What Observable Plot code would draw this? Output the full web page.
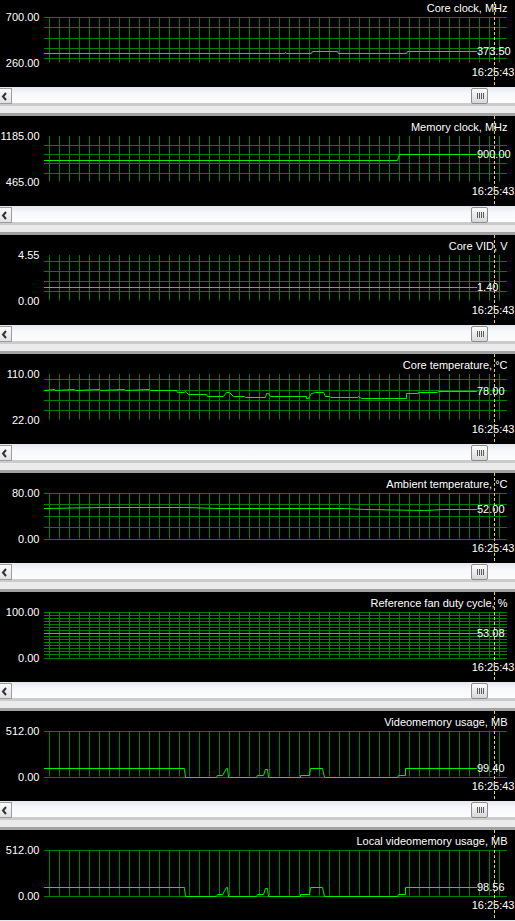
<!DOCTYPE html>
<html>
<head>
<meta charset="utf-8">
<script src="https://cdn.jsdelivr.net/npm/d3@7"></script>
<script src="https://cdn.jsdelivr.net/npm/@observablehq/plot@0.6"></script>
<style>
  html, body { margin: 0; padding: 0; background: #000; width: 515px; height: 921px; overflow: hidden; }
  #wrap { margin-top: -3px; }
  .panel svg { display: block; }
  .sb { position: relative; height: 16px; background: linear-gradient(#e4e7ee, #f7f8fb 40%, #fdfdfd); }
  .sb .btn { position: absolute; left: 0; top: 1px; width: 11px; height: 14px; border: 1px solid #9c9c9c; border-left: none; background: linear-gradient(#fbfbfb, #e2e2e6); }
  .sb .thumb { position: absolute; left: 471px; top: 1px; width: 15px; height: 14px; border: 1px solid #8c8c8c; border-radius: 2px; background: linear-gradient(#fdfdfd, #d8d8dc); box-sizing: content-box; }
  .sb .grip { position: absolute; left: 5px; top: 4px; width: 7px; height: 6px; background: repeating-linear-gradient(90deg, #5a5a5a 0 1px, transparent 1px 2px); }
  .sep1 { height: 3px; background: #cbcbcb; }
  .sep2 { height: 7px; background: #ebebeb; }
  .sep3 { height: 3px; background: #a2a2a2; }
</style>
</head>
<body>
<div id="wrap"></div>
<script>
// ---------- data ----------
const titles = ["Core clock, MHz", "Memory clock, MHz", "Core VID, V", "Core temperature, °C",
  "Ambient temperature, °C", "Reference fan duty cycle, %", "Videomemory usage, MB", "Local videomemory usage, MB"];
const yMins = [260, 465, 0, 22, 0, 0, 0, 0];
const yMaxs = [700, 1185, 4.55, 110, 80, 100, 512, 512];
const gridTicks = [
  [300, 400, 500, 600, 700],
  [600, 750, 900, 1050],
  [1, 2, 3, 4],
  [40, 60, 80, 100],
  [0, 20, 40, 60, 80],
  [0, 6.67, 13.33, 20, 26.67, 33.33, 40, 46.67, 53.33, 60, 66.67, 73.33, 80, 86.67, 93.33, 100],
  [0, 512],
  [0, 512]
];
const timeLabel = "16:25:43";
const timeTicks = [5,15,25,35,45,55,65,75,85,95,105,115,125,135,145,155,165,175,185,195,205,215,225,235,245,255,265,275,285,295,305,315,325,335,345,355,365,375,385,395,405,415,425,435,445,455];
const xDomain = [0, 463];
const cursorTime = [450];

const coreClock = [[0,350],[240,350],[241,362],[242,350],[267,350],[267.5,373.5],[293,373.5],[293.5,350],[362,350],[362.5,373.5],[432.4,373.5]];
const memClock = [[0,800],[353,800],[354,850],[355,900],[432.4,900]];
const coreVid = [[0,1.40],[432.4,1.40]];
const coreTemp = [[0,80],[10,81],[11,80],[30,81],[31,80],[55,81],[56,80],[80,81],[81,80],[105,81],[106,80],[132,80],
  [132.5,75.3],[133.5,74.6],[140,75.3],[141,77],[142,75],[144,71.5],[162,71.5],[162.5,68.2],[179,68.2],[181.7,75],[184.7,75],
  [189,68],[200,68],[200.7,65.7],[221,65.7],[222.4,73.4],[223.7,73],[225.7,68.2],[262,68.2],[262.4,64.4],[263.7,64.4],
  [266.7,73.4],[270.7,75],[279,75],[280.7,68],[285,68],[285.7,65.4],[313,65.4],[313.7,68],[316.7,64],[362,64],[362.4,73.4],
  [373.5,73.4],[374,75],[393.5,75],[394,77.9],[432.4,78]];
const ambientTemp = [[0,54],[60,55],[110,56],[140,55.5],[176,54],[230,53],[300,53],[320,51.5],[380,50],[400,51],[432.4,52]];
const fanDuty = [[0,53.08],[432.4,53.08]];
const vidMem = [[0,99.4],[139.5,99.4],[140,85],[140.7,0],[172,0],[172.5,22],[178.5,22],[182,99],[183,99],[184,0],
  [212,0],[212.5,15],[218.5,15],[221,87],[223,87],[224,0],[255.5,0],[256,15],[265,15],[265.7,95],[278.4,95],[279.7,0],
  [353,0],[353.5,15],[361,15],[361.4,99.4],[432.4,99.4]];
const localVidMem = [[0,98.56],[139.5,98.56],[140,85],[140.7,0],[172,0],[172.5,22],[178.5,22],[182,99],[183,99],[184,0],
  [212,0],[212.5,15],[218.5,15],[221,87],[223,87],[224,0],[255.5,0],[256,15],[265,15],[265.7,95],[278.4,95],[279.7,0],
  [353,0],[353.5,15],[361,15],[361.4,98.56],[432.4,98.56]];
const series = [coreClock, memClock, coreVid, coreTemp, ambientTemp, fanDuty, vidMem, localVidMem];

// ---------- style ----------
const gridColor = "#008000";
const lineColor = "#00f000";
const cursorColor = "#e8d840";
const font = "'Liberation Sans', Arial, sans-serif";

const wrap = document.getElementById("wrap");

titles.forEach((title, i) => {
  const data = series[i].map(([t, v]) => ({t, v}));
  const last = data[data.length - 1];
  const panel = document.createElement("div");
  panel.className = "panel";
  wrap.appendChild(panel);

  const svg = Plot.plot({
    width: 515, height: 90,
    marginLeft: 44, marginRight: 8, marginTop: 20, marginBottom: 24.5,
    style: {background: "black", color: "white", fontFamily: font, fontSize: "11px", overflow: "visible"},
    x: {domain: xDomain, axis: null, round: true},
    y: {domain: [yMins[i], yMaxs[i]], round: true},
    marks: [
      Plot.ruleX(timeTicks, {stroke: gridColor, strokeWidth: 1}),
      Plot.ruleY(gridTicks[i], {stroke: gridColor, strokeWidth: 1}),
      Plot.line(data, {x: "t", y: "v", stroke: lineColor, strokeWidth: 1, curve: "linear"}),
      Plot.axisY([yMins[i], yMaxs[i]], {anchor: "left", tickSize: 0, tickPadding: 5, label: null,
        tickFormat: d => d.toFixed(2), fill: "white", fontSize: 11}),
      Plot.text([title], {frameAnchor: "top-right", dy: -13.5, textAnchor: "end", fill: "white", fontSize: 11}),
      Plot.text([timeLabel], {frameAnchor: "bottom-right", dx: 7, dy: 12.5, textAnchor: "end", fill: "white", fontSize: 11}),
      Plot.ruleX(cursorTime, {stroke: cursorColor, strokeWidth: 1, strokeDasharray: "3,2", insetTop: -20, insetBottom: -24.5}),
      Plot.text([last], {x: "t", y: "v", text: d => d.v.toFixed(2), textAnchor: "start", dx: 0.5,
        fill: "white", fontSize: 11, ariaLabel: "value-label"})
    ]
  });
  panel.appendChild(svg);

  // black box behind the current value label
  const g = d3.select(svg).select('g[aria-label="value-label"]');
  const txt = g.select("text").node();
  if (txt) {
    const bb = txt.getBBox();
    const ctm = g.attr("transform");
    d3.select(svg).insert("rect", 'g[aria-label="value-label"]')
      .attr("x", bb.x - 1).attr("y", bb.y).attr("width", bb.width + 2).attr("height", bb.height)
      .attr("transform", ctm).attr("fill", "black");
  }

  const sb = document.createElement("div");
  sb.className = "sb";
  sb.innerHTML = '<div class="btn"><svg width="11" height="14"><polyline points="6,4 3,7.5 6,11" fill="none" stroke="#333" stroke-width="2"/></svg></div><div class="thumb"><span class="grip"></span></div>';
  panel.appendChild(sb);
  ["sep1", "sep2", "sep3"].forEach(c => { const d = document.createElement("div"); d.className = c; panel.appendChild(d); });
});
</script>
</body>
</html>
